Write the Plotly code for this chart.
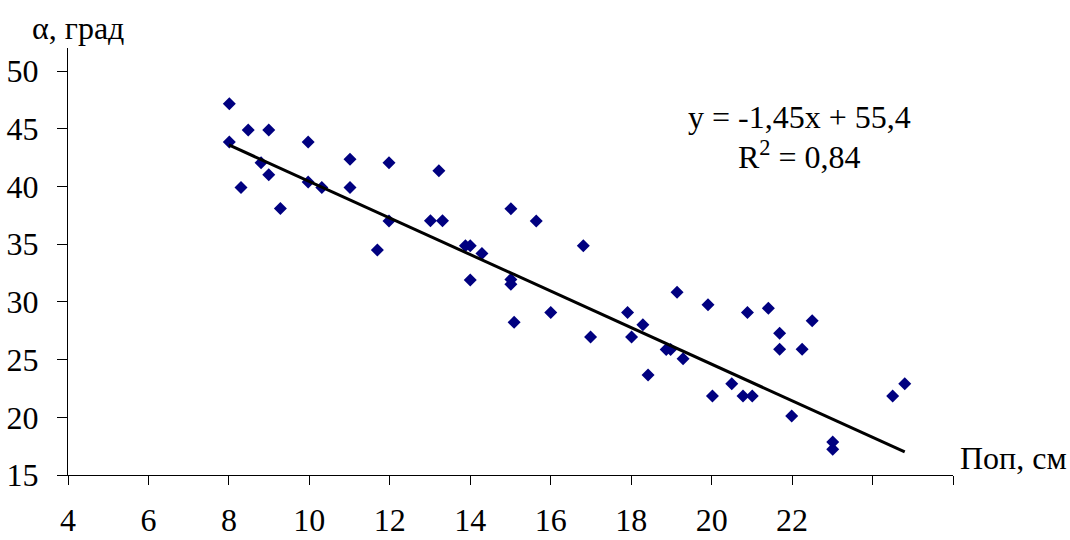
import plotly.graph_objects as go

# Data
pop_cm = [8.01, 8.48, 8.99, 8.01, 9.97, 8.80, 8.99, 8.30, 9.28, 9.97,
          10.31, 11.01, 11.01, 11.98, 11.98, 11.69, 13.22, 13.01, 13.31, 13.88,
          14.00, 14.29, 14.00, 15.01, 15.64, 16.81, 15.01, 15.01, 15.09, 16.00,
          16.99, 19.14, 19.91, 17.91, 18.29, 18.01, 18.87, 18.98, 19.29, 18.42,
          20.89, 21.41, 21.69, 21.69, 22.50, 22.25, 20.50, 20.02, 20.78, 21.01,
          21.99, 23.01, 23.01, 24.50, 24.80]
alpha_deg = [47.17, 44.89, 44.89, 43.85, 43.85, 42.06, 41.02, 39.92, 38.10, 40.38,
             39.92, 42.35, 39.92, 42.06, 37.00, 34.49, 41.36, 37.03, 37.03, 34.87,
             34.87, 34.20, 31.89, 38.07, 37.00, 34.87, 31.95, 31.52, 28.23, 29.09,
             26.96, 30.83, 29.75, 29.09, 28.02, 26.96, 25.87, 25.87, 25.07, 23.66,
             29.09, 29.45, 27.28, 25.89, 28.37, 25.89, 22.91, 21.84, 21.84, 21.84,
             20.11, 17.86, 17.23, 21.84, 22.91]

trend_x = [8.0, 24.8]
trend_y = [43.6, 17.0]

x_tickvals = [4, 6, 8, 10, 12, 14, 16, 18, 20, 22]
x_ticktext = ["4", "6", "8", "10", "12", "14", "16", "18", "20", "22"]
y_tickvals = [15, 20, 25, 30, 35, 40, 45, 50]

FONT = "Liberation Serif, Times New Roman, serif"
FS = 32

fig = go.Figure()
fig.add_trace(go.Scatter(
    x=pop_cm, y=alpha_deg, mode="markers",
    marker=dict(symbol="diamond", size=10, color="#000080", line=dict(width=0)),
    showlegend=False, cliponaxis=False))
fig.add_trace(go.Scatter(
    x=trend_x, y=trend_y, mode="lines",
    line=dict(color="black", width=3), showlegend=False, cliponaxis=False))

fig.update_layout(
    width=1070, height=540,
    margin=dict(l=68, r=117, t=48, b=65),
    paper_bgcolor="white", plot_bgcolor="white",
    font=dict(family=FONT, size=FS, color="black"),
    xaxis=dict(range=[4, 26], tickvals=x_tickvals, ticktext=x_ticktext,
               automargin=False,
               showgrid=False, zeroline=False, showline=True, linecolor="black",
               linewidth=1, ticks="outside", ticklen=9, tickcolor="black",
               minor=dict(tick0=4, dtick=2, ticks="outside", ticklen=9,
                          tickcolor="black", showgrid=False),
               ticklabelstandoff=8, tickfont=dict(family=FONT, size=FS, color="black")),
    yaxis=dict(range=[15, 52], tickvals=y_tickvals, automargin=False,
               showgrid=False, zeroline=False, showline=True, linecolor="black",
               linewidth=1, ticks="outside", ticklen=10, tickcolor="black",
               ticklabelstandoff=12, tickfont=dict(family=FONT, size=FS, color="black")),
    annotations=[
        dict(text="α, град", xref="paper", yref="paper", x=-0.043, y=1.0,
             xanchor="left", yanchor="bottom", showarrow=False,
             font=dict(family=FONT, size=FS, color="black"), yshift=0),
        dict(text="Поп, см", xref="paper", yref="y", x=1.006, y=16.5,
             xanchor="left", yanchor="middle", showarrow=False,
             font=dict(family=FONT, size=FS, color="black")),
        dict(text="y = -1,45x + 55,4", xref="x", yref="y", x=22.19, y=46.0,
             xanchor="center", yanchor="middle", showarrow=False,
             font=dict(family=FONT, size=FS, color="black")),
        dict(text="R<sup>2</sup> = 0,84", xref="x", yref="y", x=22.19, y=42.7,
             xanchor="center", yanchor="middle", showarrow=False,
             font=dict(family=FONT, size=FS, color="black")),
    ],
)

fig.write_html("out.html")
